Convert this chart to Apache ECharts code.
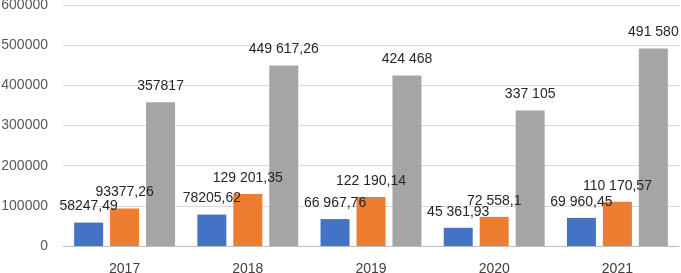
<!DOCTYPE html>
<html>
<head>
<meta charset="utf-8">
<script src="https://cdn.jsdelivr.net/npm/echarts@6/dist/echarts.min.js"></script>
<style>
	html, body { margin: 0; padding: 0; background: #fff; }
	#chart { width: 681px; height: 273px; }
</style>
</head>
<body>
<div id="chart"></div>
<script>
// данные
var years = ['2017', '2018', '2019', '2020', '2021'];
var blueVals = [58247.49, 78205.62, 66967.76, 45361.93, 69960.45];
var orangeVals = [93377.26, 129201.35, 122190.14, 72558.1, 110170.57];
var grayVals = [357817, 449617.26, 424468, 337105, 491580];
var blueText = ['58247,49', '78205,62', '66 967,76', '45 361,93', '69 960,45'];
var orangeText = ['93377,26', '129 201,35', '122 190,14', '72 558,1', '110 170,57'];
var grayText = ['357817', '449 617,26', '424 468', '337 105', '491 580'];
var yTicks = [0, 100000, 200000, 300000, 400000, 500000, 600000];

var font = 'Liberation Sans';

function makeSeries(vals, txt, color) {
	return {
		type: 'bar',
		data: vals,
		barWidth: 29,
		barGap: '24%',
		itemStyle: { color: color },
		label: {
			show: true,
			position: 'top',
			distance: 9,
			color: '#262626',
			fontFamily: font,
			fontSize: 14,
			formatter: function(p) { return txt[p.dataIndex]; }
		},
		animation: false
	};
}

var chart = echarts.init(document.getElementById('chart'));
chart.setOption({
	animation: false,
	grid: { left: 63, right: 2, top: 5, bottom: 27, containLabel: false, outerBoundsMode: 'none' },
	xAxis: {
		type: 'category',
		data: years,
		axisTick: { show: false },
		axisLine: { lineStyle: { color: '#bfbfbf', width: 1 } },
		axisLabel: { color: '#404040', fontFamily: font, fontSize: 14, margin: 16 }
	},
	yAxis: {
		type: 'value',
		min: yTicks[0],
		max: yTicks[yTicks.length - 1],
		interval: yTicks[1] - yTicks[0],
		axisLine: { show: false },
		axisTick: { show: false },
		splitLine: { lineStyle: { color: '#d9d9d9', width: 1 } },
		axisLabel: {
			color: '#595959', fontFamily: font, fontSize: 14, margin: 15,
			formatter: function(v) { return String(v); }
		}
	},
	series: [
		makeSeries(blueVals, blueText, '#4472c4'),
		makeSeries(orangeVals, orangeText, '#ed7d31'),
		makeSeries(grayVals, grayText, '#a5a5a5')
	]
});
</script>
</body>
</html>
